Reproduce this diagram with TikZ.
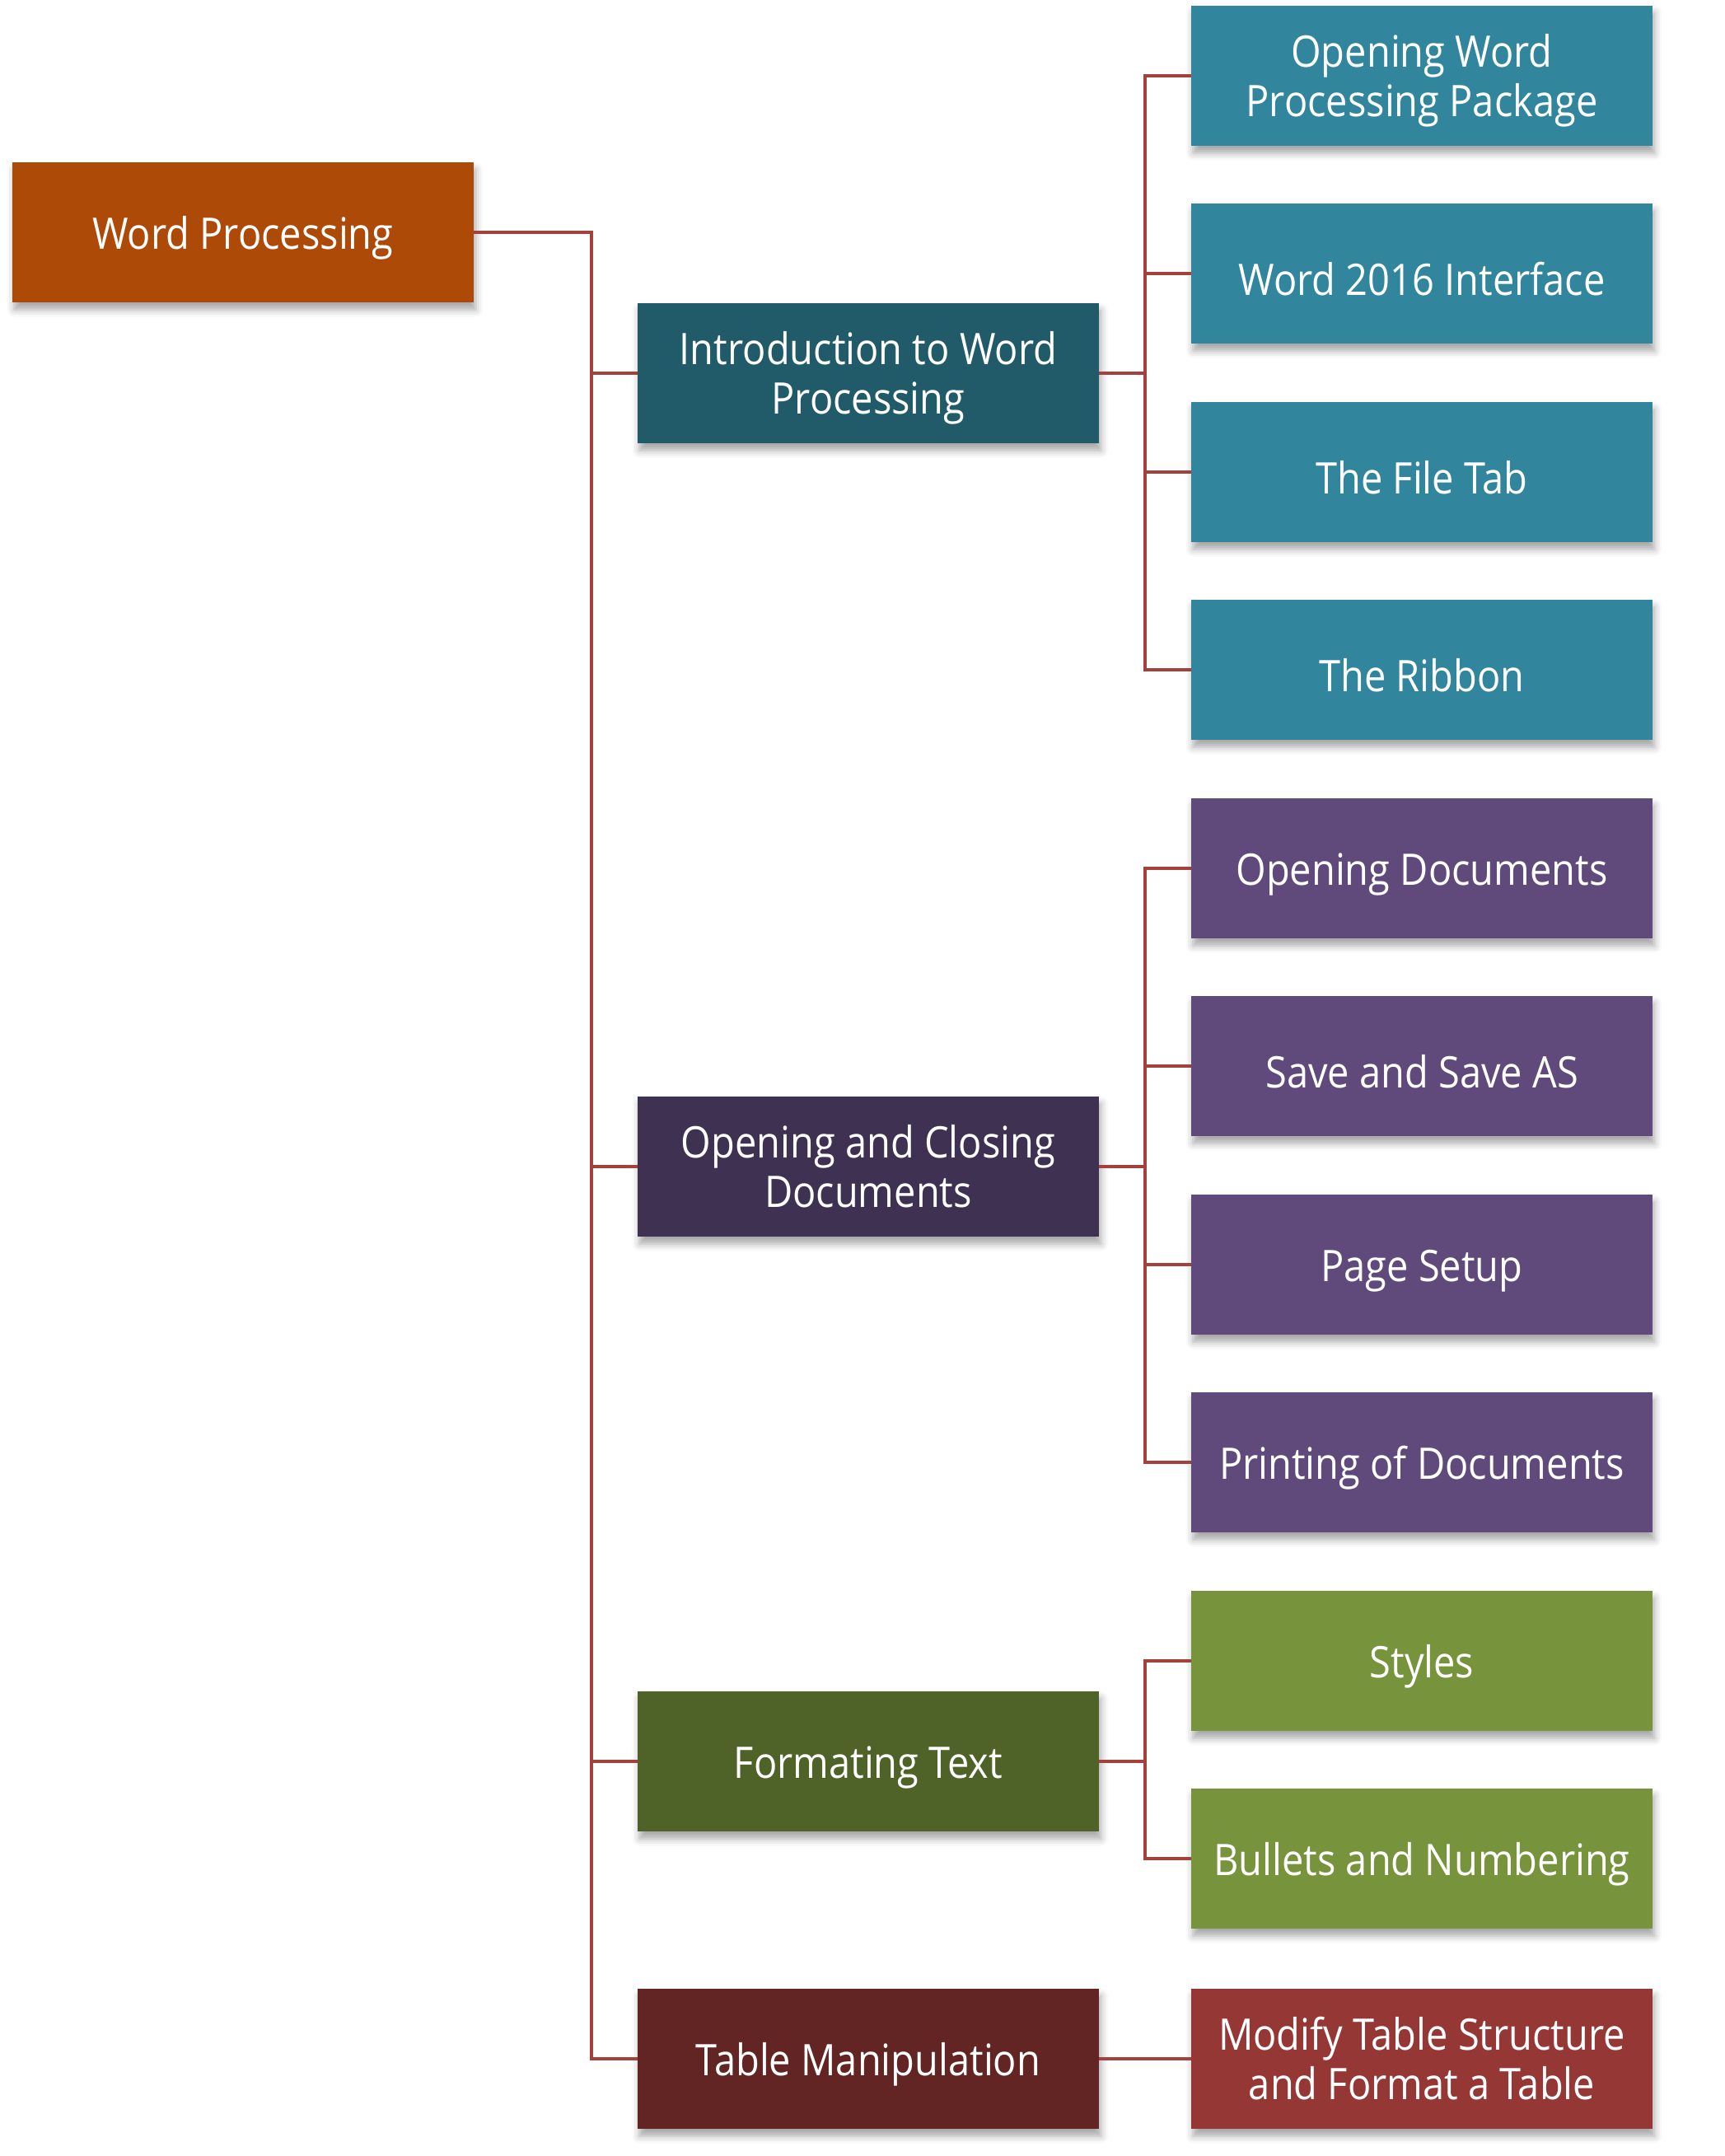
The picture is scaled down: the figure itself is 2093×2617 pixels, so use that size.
\documentclass[tikz,border=0pt]{standalone}
\usepackage{fontspec}
\setmainfont{Open Sans}[FakeStretch=0.89]
\usetikzlibrary{shadows.blur}
\definecolor{rootc}{HTML}{AE4A08}
\definecolor{tealD}{HTML}{215A69}
\definecolor{tealL}{HTML}{31859C}
\definecolor{purpD}{HTML}{3F3151}
\definecolor{purpL}{HTML}{604A7B}
\definecolor{grnD}{HTML}{4F6228}
\definecolor{grnL}{HTML}{77933C}
\definecolor{redD}{HTML}{632523}
\definecolor{redL}{HTML}{953735}
\definecolor{linec}{HTML}{A5403D}
\newcommand{\twolines}[2]{\raisebox{0pt}[\dimexpr\height+3.8pt\relax][\depth]{\begin{tabular}{@{}c@{}}#1\\#2\end{tabular}}}
\tikzset{
  box/.style={rectangle, inner sep=0pt, outer sep=0pt, minimum width=140pt, minimum height=42.5pt,
    text=white, align=center, font=\fontsize{13.2}{14.8}\selectfont,
    blur shadow={shadow xshift=0.6pt, shadow yshift=-2.2pt, shadow blur radius=2.2pt, shadow opacity=35}},
  oneline/.style={execute at begin node={\rule{0pt}{13.6pt}}},
  conn/.style={draw=linec, line width=0.8pt}
}
\begin{document}
\begin{tikzpicture}[x=0.25pt,y=-0.25pt]
\useasboundingbox (0,0) rectangle (2093,2617);
% root
\node[box, oneline, fill=rootc] (root) at (295,282) {Word Processing};
% level 1
\node[box, fill=tealD] (intro) at (1054,453) {\twolines{Introduction to Word}{Processing}};
\node[box, fill=purpD] (open) at (1054,1416) {\twolines{Opening and Closing}{Documents}};
\node[box, oneline, fill=grnD] (fmt) at (1054,2138) {Formating Text};
\node[box, oneline, fill=redD] (tab) at (1054,2499) {Table Manipulation};
% level 2
\node[box, fill=tealL] (a1) at (1726,92) {\twolines{Opening Word}{Processing Package}};
\node[box, oneline, fill=tealL] (a2) at (1726,332) {Word 2016 Interface};
\node[box, oneline, fill=tealL] (a3) at (1726,573) {The File Tab};
\node[box, oneline, fill=tealL] (a4) at (1726,813) {The Ribbon};
\node[box, oneline, fill=purpL] (b1) at (1726,1054) {Opening Documents};
\node[box, oneline, fill=purpL] (b2) at (1726,1294) {Save and Save AS};
\node[box, oneline, fill=purpL] (b3) at (1726,1535) {Page Setup};
\node[box, oneline, fill=purpL] (b4) at (1726,1775) {Printing of Documents};
\node[box, oneline, fill=grnL] (c1) at (1726,2016) {Styles};
\node[box, oneline, fill=grnL] (c2) at (1726,2256) {Bullets and Numbering};
\node[box, fill=redL] (d1) at (1726,2499) {\twolines{Modify Table Structure}{and Format a Table}};
% trunk
\foreach \n in {intro,open,fmt,tab}
  \draw[conn] (root.east) -- ++(143,0) |- (\n.west);
% branches
\foreach \n in {a1,a2,a3,a4}
  \draw[conn] (intro.east) -- ++(56,0) |- (\n.west);
\foreach \n in {b1,b2,b3,b4}
  \draw[conn] (open.east) -- ++(56,0) |- (\n.west);
\foreach \n in {c1,c2}
  \draw[conn] (fmt.east) -- ++(56,0) |- (\n.west);
\draw[conn] (tab.east) -- (d1.west);
\end{tikzpicture}
\end{document}
